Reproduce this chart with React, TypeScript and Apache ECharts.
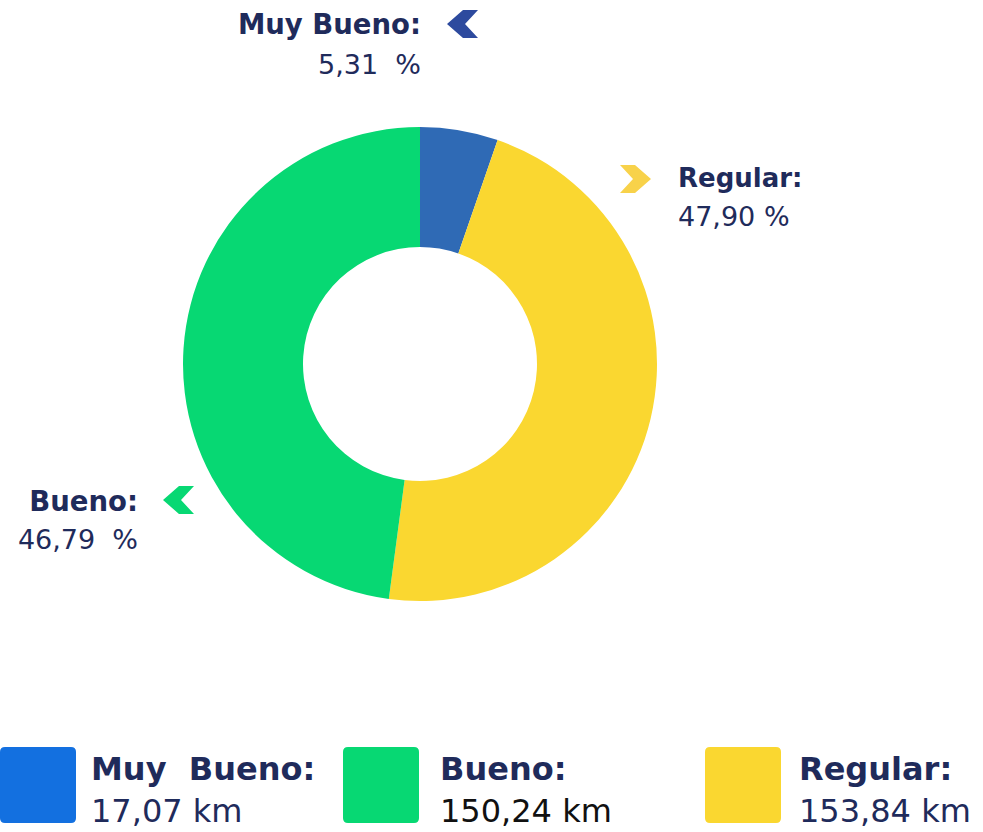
import React, { useEffect, useRef } from "react";
import * as echarts from "echarts";

// Categories (legend order) and their values
const categories = ["Muy Bueno", "Bueno", "Regular"];
const legendNames = ["Muy  Bueno", "Bueno", "Regular"];
const kmValues = [17.07, 150.24, 153.84];
const kmLabels = ["17,07 km", "150,24 km", "153,84 km"];
const percentLabels = ["5,31  %", "46,79  %", "47,90 %"];

// Slices as drawn, clockwise from the top (share of the ring in %)
const sliceNames = ["Muy Bueno", "Regular", "Bueno"];
const sliceShares = [5.31, 46.79, 47.9];

const NAVY = "#1F2B5B";
const sliceColors: Record<string, string> = {
  "Muy Bueno": "#2F6AB5",
  Regular: "#FAD730",
  Bueno: "#07D873",
};
const legendColors = ["#1370E0", "#07D873", "#FAD730"];
const chevronColors = ["#2D4A9E", "#07D873", "#F8D24A"];

export default function App() {
  const ref = useRef<HTMLDivElement>(null);
  useEffect(() => {
    document.body.style.margin = "0";
    const chart = echarts.init(ref.current!, null, { renderer: "svg" });

    const boldFont = { fontFamily: "DejaVu Sans", fontWeight: "bold" as const };
    const regFont = { fontFamily: "DejaVu Sans", fontWeight: "normal" as const };

    const labelText = (
      idx: number,
      x: number,
      yName: number,
      yVal: number,
      align: "left" | "right",
      nameSize: number
    ) => [
      {
        type: "text",
        x,
        y: yName,
        style: {
          text: categories[idx] + ":",
          ...boldFont,
          fontSize: nameSize,
          fill: NAVY,
          align,
          verticalAlign: "middle",
        },
      },
      {
        type: "text",
        x,
        y: yVal,
        style: {
          text: percentLabels[idx],
          ...regFont,
          fontSize: 27,
          fill: NAVY,
          align,
          verticalAlign: "middle",
        },
      },
    ];

    const chevLeft = (x: number, y: number, color: string) => ({
      type: "polygon",
      shape: {
        points: [
          [x + 16, y],
          [x + 31, y],
          [x + 18, y + 14],
          [x + 31, y + 28],
          [x + 16, y + 28],
          [x, y + 14],
        ],
      },
      style: { fill: color },
    });
    const chevRight = (x: number, y: number, color: string) => ({
      type: "polygon",
      shape: {
        points: [
          [x, y],
          [x + 15, y],
          [x + 31, y + 14],
          [x + 15, y + 28],
          [x, y + 28],
          [x + 13, y + 14],
        ],
      },
      style: { fill: color },
    });

    const legendIcon =
      "path://M5,0H71Q76,0 76,5V71Q76,76 71,76H5Q0,76 0,71V5Q0,0 5,0Z";
    const legendLeft = [0, 343, 705];
    const legendTextGap = [10, 16, 13];
    const legends = categories.map((name, i) => ({
      left: legendLeft[i],
      top: 747,
      padding: 0,
      selectedMode: false,
      icon: legendIcon,
      itemWidth: 76,
      itemHeight: 76,
      data: [{ name, itemStyle: { color: legendColors[i] } }],
      formatter: () => `{b|${legendNames[i]}:}\n{v|${kmLabels[i]}}`,
      textStyle: {
        padding: [9, 0, 0, legendTextGap[i]],
        rich: {
          b: { ...boldFont, fontSize: 32, color: NAVY, lineHeight: 42 },
          v: {
            ...regFont,
            fontSize: 32,
            color: i === 1 ? "#111111" : NAVY,
            lineHeight: 42,
          },
        },
      },
    }));

    chart.setOption({
      animation: false,
      backgroundColor: "#ffffff",
      legend: legends,
      series: [
        {
          type: "pie",
          center: [420, 364],
          radius: [117, 237],
          startAngle: 90,
          clockwise: true,
          silent: true,
          label: { show: false },
          labelLine: { show: false },
          itemStyle: { borderWidth: 0 },
          data: sliceNames.map((n, i) => ({
            name: n,
            value: sliceShares[i],
            itemStyle: { color: sliceColors[n] },
          })),
        },
      ],
      graphic: [
        ...labelText(0, 421, 24, 64, "right", 27.5),
        ...labelText(2, 678, 178, 216, "left", 26),
        ...labelText(1, 138, 501, 539, "right", 27.5),
        chevLeft(447, 10, chevronColors[0]),
        chevRight(620, 165, chevronColors[2]),
        chevLeft(163, 486, chevronColors[1]),
      ],
    });
    return () => chart.dispose();
  }, []);
  return (
    <div
      ref={ref}
      style={{ position: "absolute", left: 0, top: 0, width: 983, height: 832 }}
    />
  );
}
